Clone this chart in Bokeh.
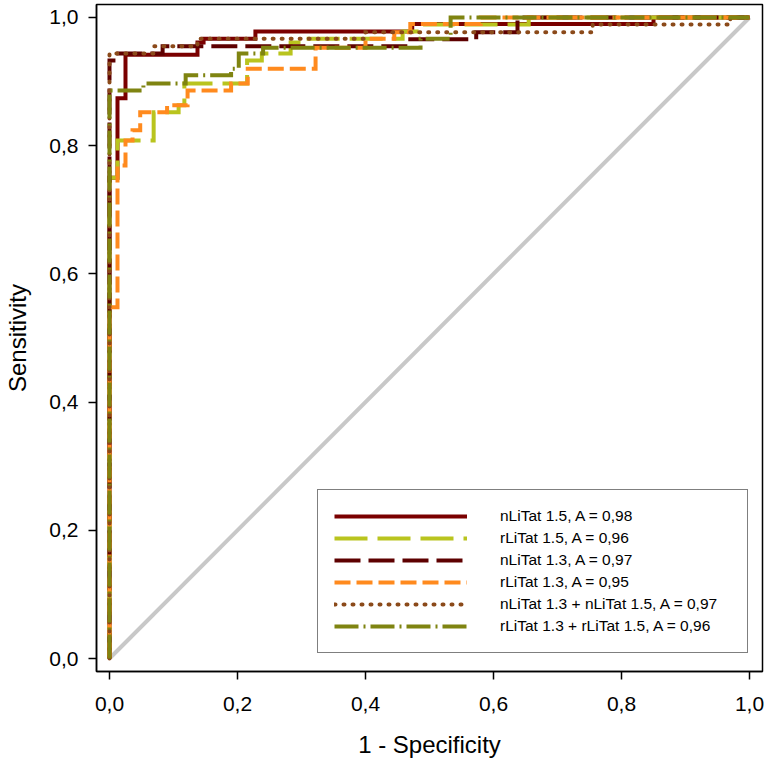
from bokeh.plotting import figure
from bokeh.models import Range1d, FixedTicker, CustomJSTickFormatter, Legend, LegendItem
from bokeh.embed import file_html
from bokeh.resources import INLINE

# ---- data (ROC step curves: at each fpr value the sensitivity rises to the given tpr) ----
tick_values = [0.0, 0.2, 0.4, 0.6, 0.8, 1.0]
chance_x = [0.0, 1.0]
chance_y = [0.0, 1.0]

n15_fpr = [0, 0, 0.0125, 0.025, 0.1375, 0.147, 0.228, 0.473, 0.85, 1.0]
n15_tpr = [0, 0.75, 0.874, 0.942, 0.961, 0.967, 0.978, 0.99, 1.0, 1.0]

r15_fpr = [0, 0, 0.0125, 0.069, 0.108, 0.117, 0.215, 0.238, 0.283, 0.30, 0.458, 0.49, 0.655, 1.0]
r15_tpr = [0, 0.75, 0.808, 0.852, 0.863, 0.897, 0.933, 0.944, 0.961, 0.967, 0.978, 0.989, 1.0, 1.0]

n13_fpr = [0, 0, 0.01, 0.083, 0.466, 0.573, 0.6375, 1.0]
n13_tpr = [0, 0.933, 0.944, 0.955, 0.966, 0.977, 1.0, 1.0]

r13_fpr = [0, 0, 0.0125, 0.025, 0.036, 0.048, 0.09, 0.122, 0.19, 0.216, 0.322, 0.40, 0.445, 0.47, 0.58, 1.0]
r13_tpr = [0, 0.548, 0.769, 0.808, 0.824, 0.852, 0.863, 0.886, 0.897, 0.92, 0.953, 0.967, 0.977, 0.99, 1.0, 1.0]

ncomb_fpr = [0, 0, 0.069, 0.1375, 0.40, 0.755, 0.97, 1.0]
ncomb_tpr = [0, 0.944, 0.955, 0.967, 0.977, 0.989, 1.0, 1.0]

rcomb_fpr = [0, 0, 0.053, 0.119, 0.19, 0.202, 0.24, 0.486, 0.533, 1.0]
rcomb_tpr = [0, 0.886, 0.897, 0.91, 0.92, 0.944, 0.953, 0.967, 1.0, 1.0]

labels = [
    "nLiTat 1.5, A = 0,98",
    "rLiTat 1.5, A = 0,96",
    "nLiTat 1.3, A = 0,97",
    "rLiTat 1.3, A = 0,95",
    "nLiTat 1.3 + nLiTat 1.5, A = 0,97",
    "rLiTat 1.3 + rLiTat 1.5, A = 0,96",
]

FONT = "Liberation Sans"

p = figure(width=766, height=770,
           x_range=Range1d(-0.0203, 1.0203), y_range=Range1d(-0.02028, 1.02028),
           output_backend="svg", toolbar_location=None,
           min_border_left=96, min_border_right=4, min_border_top=4, min_border_bottom=99,
           x_axis_label="1 - Specificity", y_axis_label="Sensitivity")

p.xgrid.visible = False
p.ygrid.visible = False
p.outline_line_color = "black"
p.outline_line_width = 1.5
p.background_fill_color = "white"
p.border_fill_color = "white"

fmt = CustomJSTickFormatter(code="return tick.toFixed(1).replace('.', ',');")
for ax in (p.xaxis[0], p.yaxis[0]):
    ax.ticker = FixedTicker(ticks=tick_values)
    ax.formatter = fmt
    ax.major_tick_in = 0
    ax.major_tick_out = 8
    ax.minor_tick_line_color = None
    ax.axis_line_width = 1.5
    ax.major_tick_line_width = 1.5
    ax.major_label_text_font = FONT
    ax.major_label_text_font_size = "21px"
    ax.major_label_text_color = "black"
    ax.axis_label_text_font = FONT
    ax.axis_label_text_font_size = "24px"
    ax.axis_label_text_font_style = "normal"
    ax.axis_label_text_color = "black"

p.xaxis[0].major_label_standoff = 17
p.xaxis[0].axis_label_standoff = 17
p.yaxis[0].major_label_standoff = 10
p.yaxis[0].axis_label_standoff = 15

# chance line
p.line(chance_x, chance_y, line_color="#C8C8C8", line_width=4)

series = [
    (n15_fpr, n15_tpr, "#7A0000", "solid", "butt"),
    (r15_fpr, r15_tpr, "#B9C41E", "33 10", "butt"),
    (n13_fpr, n13_tpr, "#5E0000", "26 8", "butt"),
    (r13_fpr, r13_tpr, "#FF8A1E", "16 6", "butt"),
    (ncomb_fpr, ncomb_tpr, "#8B4A1A", "1 8", "round"),
    (rcomb_fpr, rcomb_tpr, "#7F8411", "24 5 2 5", "butt"),
]

items = []
for (xs, ys, col, dash, cap), lab in zip(series, labels):
    r = p.step(xs, ys, mode="after", line_color=col, line_width=4,
               line_dash=dash, line_cap=cap, line_join="miter")
    items.append(LegendItem(label=lab, renderers=[r]))

legend = Legend(items=items, location=(221, 18), orientation="vertical",
                glyph_width=133, glyph_height=20, spacing=2, padding=16,
                label_standoff=33, label_width=231,
                label_text_font=FONT, label_text_font_size="15.5px",
                label_text_color="black",
                border_line_color="black", border_line_width=1.5,
                background_fill_color="white", background_fill_alpha=1.0,
                margin=0)
p.add_layout(legend)

open("out.html", "w").write(file_html(p, INLINE))
